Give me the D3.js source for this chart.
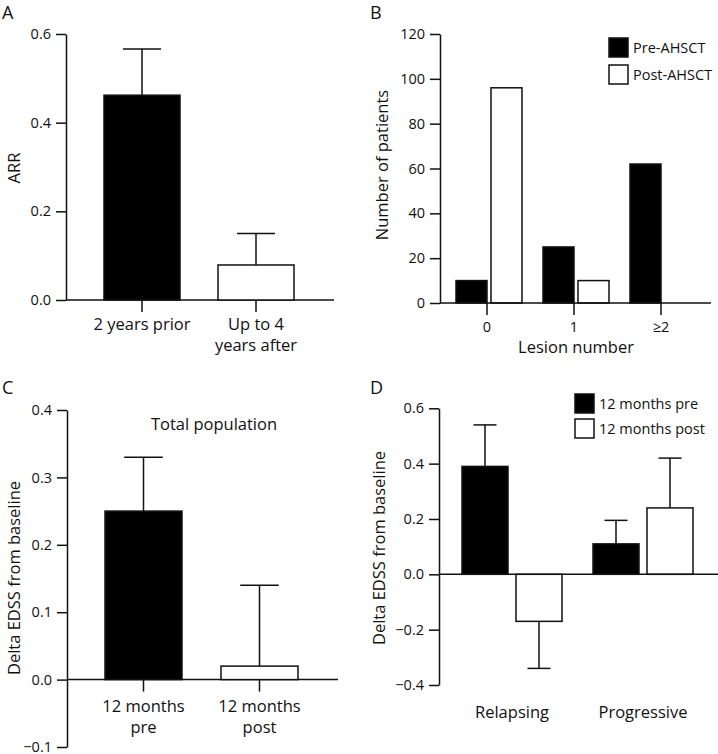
<!DOCTYPE html>
<html>
<head>
<meta charset="utf-8">
<script src="https://cdn.jsdelivr.net/npm/d3@7"></script>
<style>
  html, body { margin: 0; padding: 0; background: #fff; }
  svg { display: block; font-family: "Open Sans", "Noto Sans", sans-serif; }
  text { fill: #111; }
</style>
</head>
<body>
<svg id="chart" width="718" height="754"></svg>
<script>
// ---------- Data ----------
// Panel A
const aCategories = [["2 years prior"], ["Up to 4", "years after"]];
const aValues = [0.462, 0.079];
const aErrors = [0.566, 0.150];
const aTicks = [0.0, 0.2, 0.4, 0.6];

// Panel B
const bCategories = ["0", "1", "≥2"];
const bSeries = ["Pre-AHSCT", "Post-AHSCT"];
const bPre = [10, 25, 62];
const bPost = [96, 10, 0];
const bTicks = [0, 20, 40, 60, 80, 100, 120];

// Panel C
const cCategories = [["12 months", "pre"], ["12 months", "post"]];
const cValues = [0.25, 0.02];
const cErrors = [0.33, 0.14];
const cTicks = [-0.1, 0.0, 0.1, 0.2, 0.3, 0.4];

// Panel D
const dCategories = ["Relapsing", "Progressive"];
const dSeries = ["12 months pre", "12 months post"];
const dPre = [0.39, 0.11];
const dPreErr = [0.54, 0.195];
const dPost = [-0.17, 0.24];
const dPostErr = [-0.34, 0.42];
const dTicks = [-0.4, -0.2, 0.0, 0.2, 0.4, 0.6];

// ---------- Drawing ----------
const svg = d3.select("#chart");
const SW = 1.5;
const TITLE_FS = 16.5;
const fmt1 = d3.format(".1f");

function panelLetter(x, y, t) {
  svg.append("text").attr("x", x).attr("y", y).attr("font-size", 18).text(t);
}

function yAxis(scale, x, ticks, fmt) {
  const g = svg.append("g").attr("transform", `translate(${x},0)`)
    .call(d3.axisLeft(scale).tickValues(ticks).tickFormat(fmt).tickSize(10).tickSizeOuter(0).tickPadding(5));
  g.selectAll("path, line").attr("stroke", "#111").attr("stroke-width", SW);
  g.selectAll("text").attr("font-size", 14.5).attr("fill", "#111").attr("font-family", "Open Sans, sans-serif");
  return g;
}

function yTitle(x, y, t) {
  svg.append("text").attr("transform", `translate(${x},${y}) rotate(-90)`)
    .attr("text-anchor", "middle").attr("dominant-baseline", "central")
    .attr("font-size", TITLE_FS).text(t);
}

function hLine(x1, x2, y) {
  svg.append("line").attr("x1", x1).attr("x2", x2).attr("y1", y).attr("y2", y)
    .attr("stroke", "#111").attr("stroke-width", SW);
}

function bar(x, w, y0, y1, fill) {
  svg.append("rect").attr("x", x).attr("width", w)
    .attr("y", Math.min(y0, y1)).attr("height", Math.abs(y1 - y0))
    .attr("fill", fill).attr("stroke", "#111").attr("stroke-width", SW);
}

function errBar(cx, capW, yFrom, yTo) {
  svg.append("line").attr("x1", cx).attr("x2", cx).attr("y1", yFrom).attr("y2", yTo)
    .attr("stroke", "#111").attr("stroke-width", SW);
  svg.append("line").attr("x1", cx - capW / 2).attr("x2", cx + capW / 2).attr("y1", yTo).attr("y2", yTo)
    .attr("stroke", "#111").attr("stroke-width", SW);
}

function xTick(cx, y) {
  svg.append("line").attr("x1", cx).attr("x2", cx).attr("y1", y).attr("y2", y + 12)
    .attr("stroke", "#111").attr("stroke-width", SW);
}

function multiLabel(cx, y, lines, lh) {
  lines.forEach((l, i) => {
    svg.append("text").attr("x", cx).attr("y", y + i * lh).attr("text-anchor", "middle")
      .attr("font-size", TITLE_FS).text(l);
  });
}

function legend(x, y, names, size, gap, fs) {
  names.forEach((n, i) => {
    svg.append("rect").attr("x", x).attr("y", y + i * gap).attr("width", size).attr("height", size)
      .attr("fill", i === 0 ? "#000" : "#fff").attr("stroke", "#111").attr("stroke-width", SW);
    svg.append("text").attr("x", x + size + 5).attr("y", y + i * gap + size / 2)
      .attr("dominant-baseline", "central").attr("font-size", fs).text(n);
  });
}

// ===== Panel A =====
{
  panelLetter(2, 19, "A");
  const y = d3.scaleLinear().domain([0, 0.6]).range([300, 34]);
  const x = d3.scaleBand().domain(d3.range(aValues.length)).range([104, 294]).paddingInner(1 / 3).paddingOuter(0);
  yAxis(y, 66, aTicks, fmt1);
  hLine(66, 334, y(0));
  aValues.forEach((v, i) => {
    const cx = x(i) + x.bandwidth() / 2;
    errBar(cx, x.bandwidth() / 2, y(v), y(aErrors[i]));
    bar(x(i), x.bandwidth(), y(0), y(v), i === 0 ? "#000" : "#fff");
    xTick(cx, y(0));
    multiLabel(cx, 330, aCategories[i], 21);
  });
  yTitle(13, 168, "ARR");
}

// ===== Panel B =====
{
  panelLetter(370, 19, "B");
  const y = d3.scaleLinear().domain([0, 120]).range([303, 34]);
  const x = d3.scalePoint().domain(bCategories).range([487, 661]);
  const sub = d3.scaleBand().domain(bSeries).range([-31, 35]).paddingInner(0.114).paddingOuter(0);
  yAxis(y, 440, bTicks, d3.format("d"));
  bCategories.forEach((c, i) => {
    const vals = [bPre[i], bPost[i]];
    bSeries.forEach((s, j) => {
      if (vals[j] > 0) bar(x(c) + sub(s), sub.bandwidth(), y(0), y(vals[j]), j === 0 ? "#000" : "#fff");
    });
  });
  hLine(440, 711, y(0));
  bCategories.forEach(c => {
    xTick(x(c), y(0));
    svg.append("text").attr("x", x(c)).attr("y", 332).attr("text-anchor", "middle")
      .attr("font-size", 14.5).text(c);
  });
  svg.append("text").attr("x", 576).attr("y", 353).attr("text-anchor", "middle")
    .attr("font-size", TITLE_FS).text("Lesion number");
  yTitle(381, 165, "Number of patients");
  legend(609, 38, bSeries, 19, 27, 14.5);
}

// ===== Panel C =====
{
  panelLetter(2, 394, "C");
  const y = d3.scaleLinear().domain([-0.1, 0.4]).range([747, 410]);
  const x = d3.scaleBand().domain(d3.range(cValues.length)).range([105, 298]).paddingInner(0.336).paddingOuter(0);
  yAxis(y, 67, cTicks, fmt1);
  hLine(67, 338, y(0));
  cValues.forEach((v, i) => {
    const cx = x(i) + x.bandwidth() / 2;
    errBar(cx, x.bandwidth() / 2, y(v), y(cErrors[i]));
    bar(x(i), x.bandwidth(), y(0), y(v), i === 0 ? "#000" : "#fff");
    xTick(cx, y(0));
    multiLabel(cx, 712, cCategories[i], 21);
  });
  svg.append("text").attr("x", 214).attr("y", 430).attr("text-anchor", "middle")
    .attr("font-size", TITLE_FS).text("Total population");
  yTitle(13, 578, "Delta EDSS from baseline");
}

// ===== Panel D =====
{
  panelLetter(370, 394, "D");
  const y = d3.scaleLinear().domain([-0.4, 0.6]).range([685, 408.3]);
  const x = d3.scalePoint().domain(dCategories).range([512, 643]);
  const sub = d3.scaleBand().domain(dSeries).range([-50, 50]).paddingInner(0.148).paddingOuter(0);
  yAxis(y, 439, dTicks, fmt1);
  dCategories.forEach((c, i) => {
    const vals = [dPre[i], dPost[i]];
    const errs = [dPreErr[i], dPostErr[i]];
    dSeries.forEach((s, j) => {
      const bx = x(c) + sub(s);
      const cx = bx + sub.bandwidth() / 2;
      errBar(cx, sub.bandwidth() / 2, y(vals[j]), y(errs[j]));
      bar(bx, sub.bandwidth(), y(0), y(vals[j]), j === 0 ? "#000" : "#fff");
    });
    svg.append("text").attr("x", x(c)).attr("y", 718).attr("text-anchor", "middle")
      .attr("font-size", TITLE_FS).text(c);
  });
  hLine(439, 718, y(0));
  yTitle(378, 548, "Delta EDSS from baseline");
  legend(575, 394, dSeries, 19, 25, 14.5);
}
</script>
</body>
</html>
